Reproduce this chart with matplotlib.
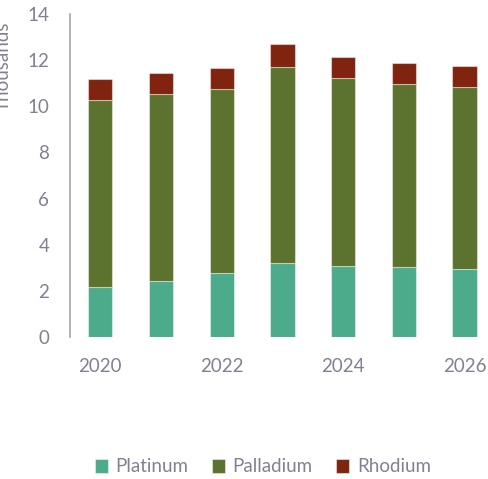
import matplotlib
matplotlib.use("Agg")
import matplotlib.pyplot as plt
import numpy as np

years = [2020, 2021, 2022, 2023, 2024, 2025, 2026]
platinum = [2.17, 2.44, 2.77, 3.19, 3.08, 3.02, 2.93]
palladium = [8.10, 8.09, 7.97, 8.53, 8.15, 7.95, 7.92]
rhodium = [0.90, 0.90, 0.92, 0.98, 0.89, 0.92, 0.90]
series_names = ["Platinum", "Palladium", "Rhodium"]
colors = ["#4cab8b", "#5b732e", "#80240f"]
ytick_vals = [0, 2, 4, 6, 8, 10, 12, 14]
xtick_labels = [2020, 2022, 2024, 2026]

plt.rcParams['font.family'] = ['Lato', 'DejaVu Sans']
txt_color = "#857f91"

fig = plt.figure(figsize=(4.89, 4.79), dpi=100)
ax = fig.add_axes([70/489, 142/479, 425/489, 323/479])

bottom = np.zeros(len(years))
for name, vals, c in zip(series_names, [platinum, palladium, rhodium], colors):
    ax.bar(years, vals, width=0.4, bottom=bottom, color=c, label=name,
           edgecolor=(1, 1, 1, 0.45), linewidth=0.8)
    bottom += np.array(vals)

ax.set_xlim(2019.5, 2026.5)
ax.set_ylim(0, 14)
ax.set_yticks(ytick_vals)
ax.set_xticks(xtick_labels)
ax.tick_params(axis='both', length=0, labelsize=13.5, colors=txt_color)
ax.tick_params(axis='y', pad=15)
ax.tick_params(axis='x', pad=15)
for s in ['top', 'right', 'bottom']:
    ax.spines[s].set_visible(False)
ax.spines['left'].set_color('#a6a6a6')
ax.spines['left'].set_linewidth(1.2)

fig.text(0.007, (479 - 66) / 479, "Thousands", rotation=90, ha='center', va='center',
         fontsize=13.5, color=txt_color)

fig.legend(loc='center', bbox_to_anchor=(263/489, 12/479), ncol=3, frameon=False,
           fontsize=13.5, labelcolor=txt_color, handlelength=0.7, handleheight=0.7,
           handletextpad=0.4, columnspacing=1.25)

fig.savefig("out.png", dpi=100)
